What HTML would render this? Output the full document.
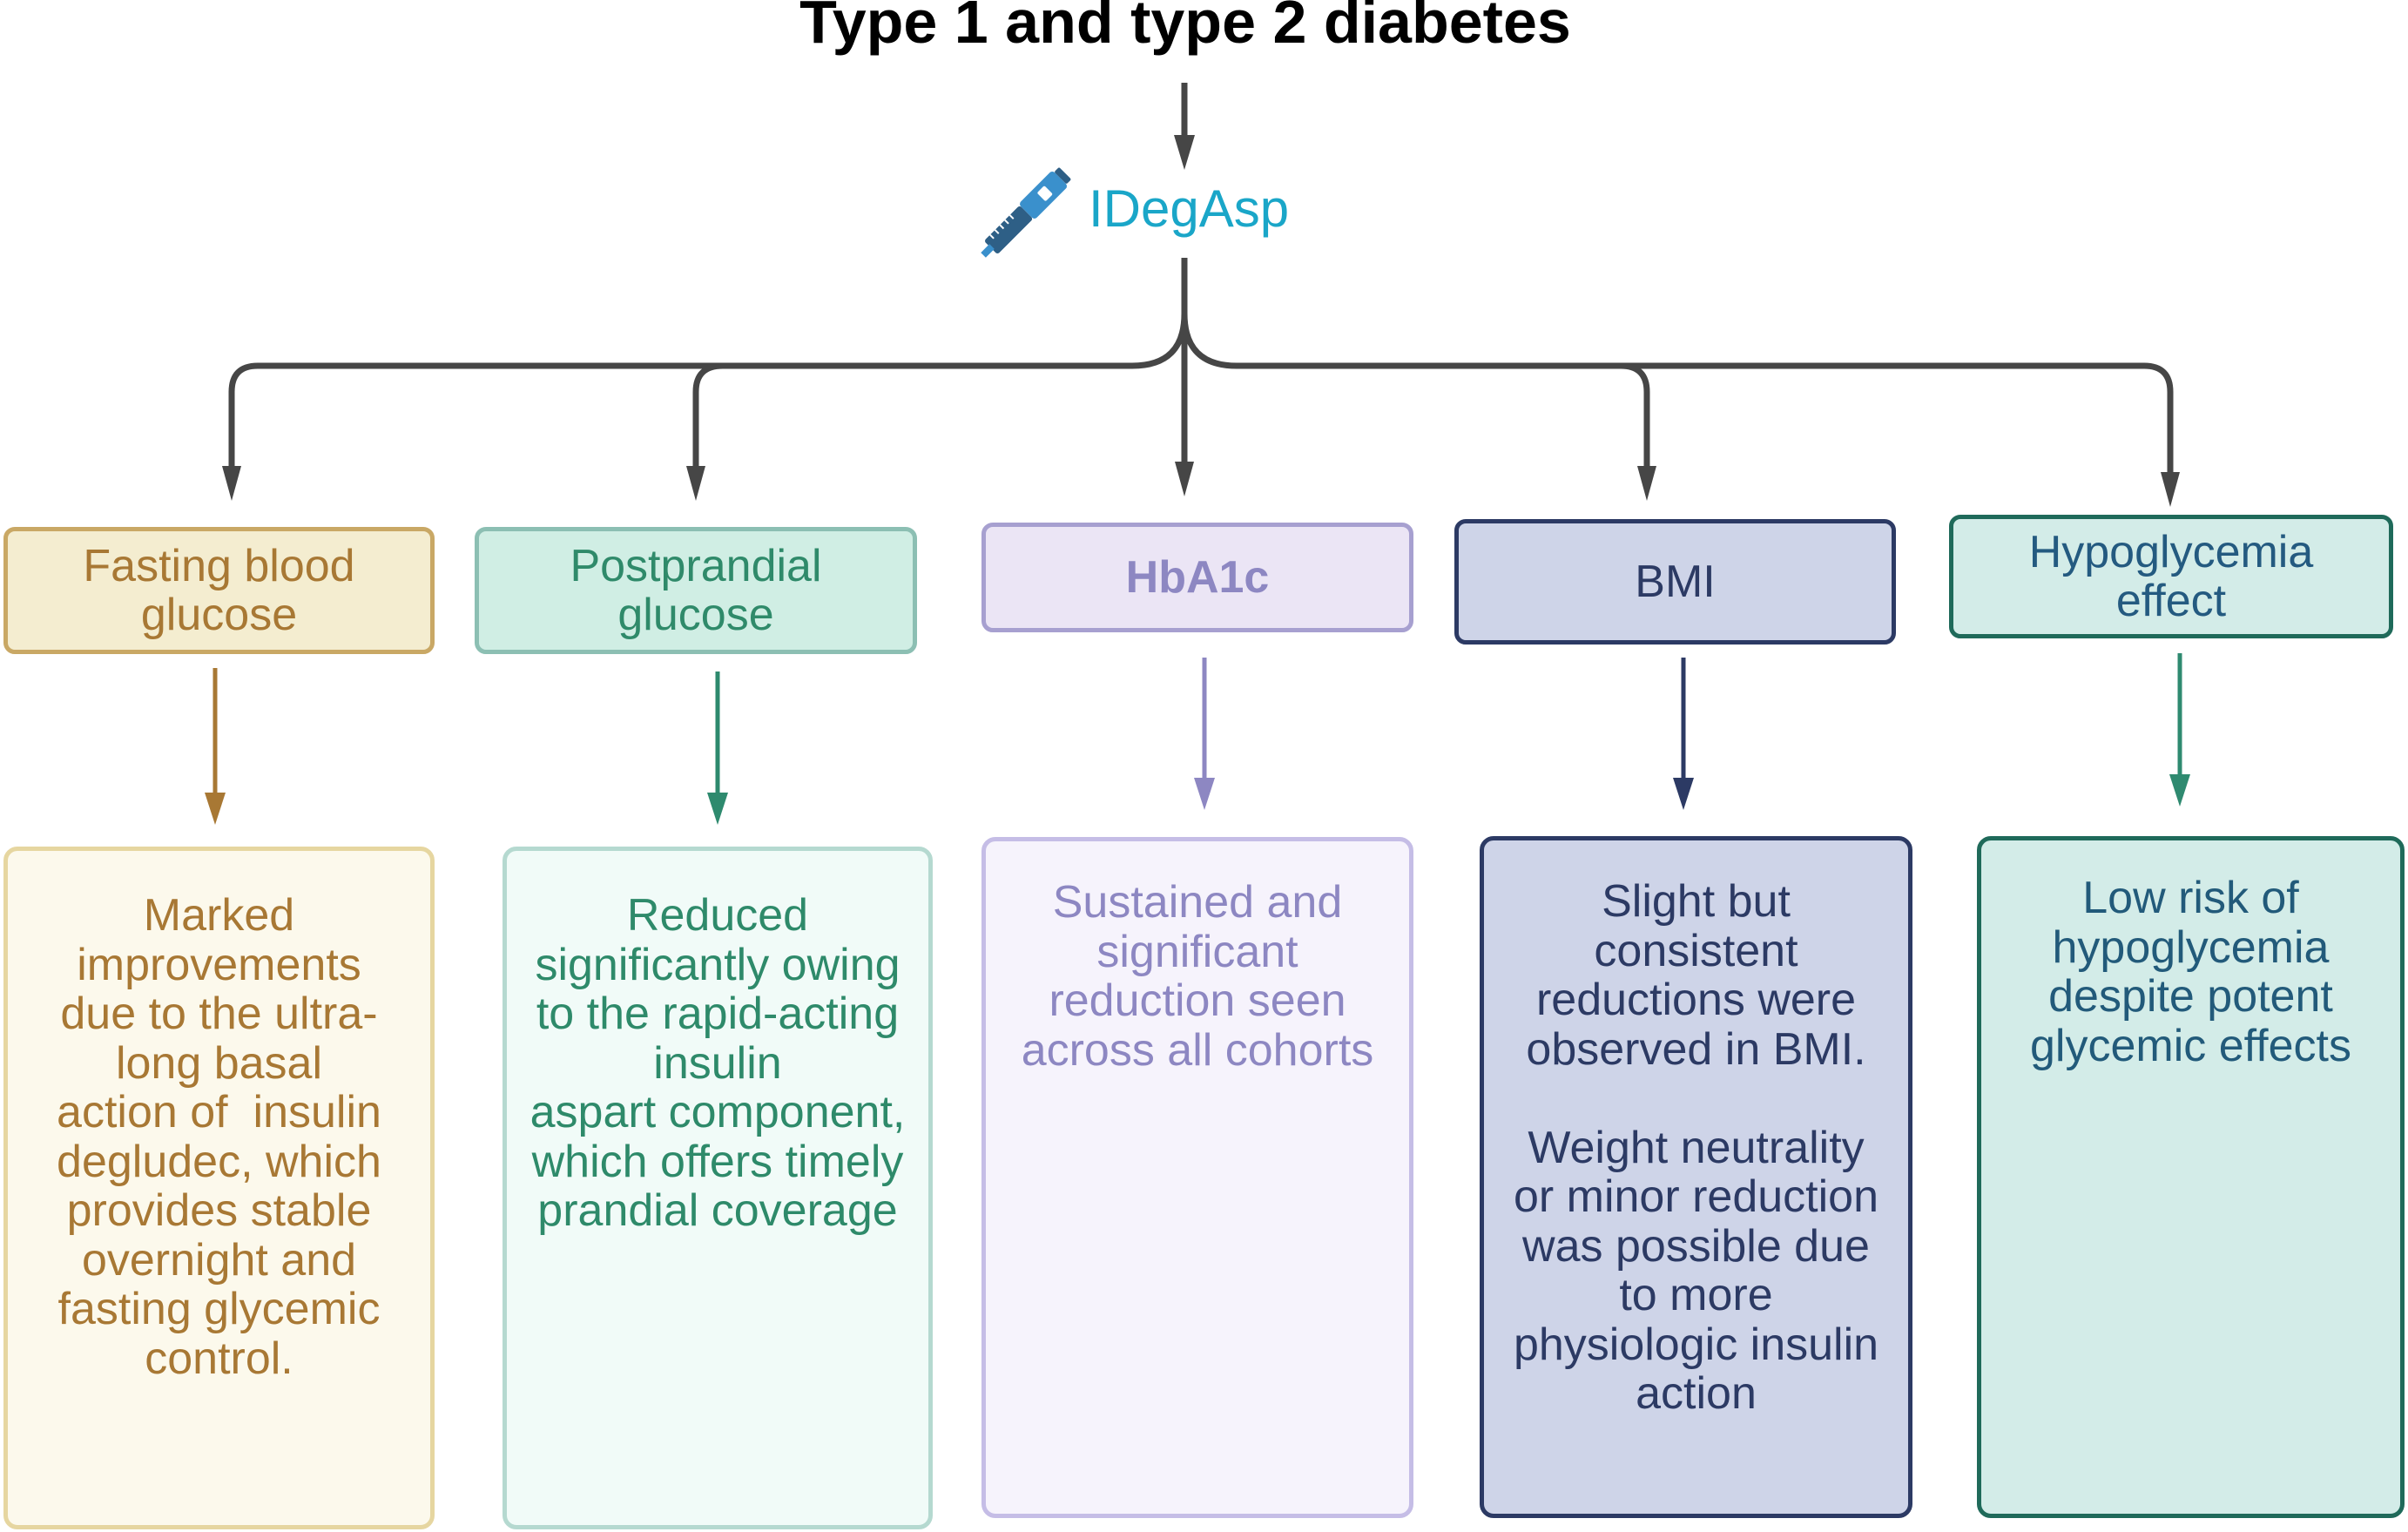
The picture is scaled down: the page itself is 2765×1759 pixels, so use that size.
<!DOCTYPE html>
<html><head><meta charset="utf-8"><style>
html,body{margin:0;padding:0;background:#fff;}
body{width:2765px;height:1759px;position:relative;overflow:hidden;font-family:"Liberation Sans",Arial,sans-serif;}
.t{position:absolute;white-space:nowrap;}
.box{position:absolute;box-sizing:border-box;border-radius:13px;border-style:solid;border-width:5px;display:flex;align-items:center;justify-content:center;text-align:center;font-size:52px;line-height:56px;}
.low{position:absolute;box-sizing:border-box;border-radius:16px;border-style:solid;border-width:5px;text-align:center;font-size:52px;line-height:56.5px;white-space:nowrap;}
</style></head><body>
<div class="t" style="left:0;width:2722px;text-align:center;top:-15px;font-size:70px;font-weight:bold;color:#000;">Type 1 and type 2 diabetes</div>
<div class="t" style="left:1250px;top:205px;font-size:60px;color:#1aa6c8;">IDegAsp</div>

<svg width="2765" height="1759" style="position:absolute;left:0;top:0" xmlns="http://www.w3.org/2000/svg">
<g transform="translate(1180,242) rotate(-45)">
<rect x="-60" y="-11" width="58" height="22" rx="3" fill="#2e5f86"/>
<rect x="-2" y="-13" width="55" height="26" rx="4" fill="#3a90cc"/>
<rect x="22" y="-7" width="12" height="14" rx="2" fill="#fff"/>
<rect x="53" y="-10" width="8" height="20" rx="2" fill="#2e5f86"/>
<rect x="-72" y="-4" width="14" height="8" fill="#3a90cc"/>
<g stroke="#fff" stroke-width="2"><line x1="-50" y1="-11" x2="-50" y2="-5"/><line x1="-42" y1="-11" x2="-42" y2="-5"/><line x1="-34" y1="-11" x2="-34" y2="-5"/><line x1="-26" y1="-11" x2="-26" y2="-5"/><line x1="-18" y1="-11" x2="-18" y2="-5"/></g>
</g>
<g fill="none" stroke="#464646" stroke-width="7">
<line x1="1360" y1="95" x2="1360" y2="160"/>
<line x1="1360" y1="296" x2="1360" y2="540"/>
<path d="M1360 360 Q1360 420 1300 420 L296 420 Q266 420 266 450 L266 540"/>
<path d="M1360 360 Q1360 420 1420 420 L2462 420 Q2492 420 2492 450 L2492 545"/>
<path d="M830 420 Q799 420 799 450 L799 540"/>
<path d="M1861 420 Q1891 420 1891 450 L1891 540"/>
</g>
<g fill="#464646">
<polygon points="1348,155 1372,155 1360,195"/>
<polygon points="255,535 277,535 266,575"/>
<polygon points="788,535 810,535 799,575"/>
<polygon points="1349,530 1371,530 1360,570"/>
<polygon points="1880,535 1902,535 1891,575"/>
<polygon points="2481,542 2503,542 2492,582"/>
</g>
<g stroke-width="5">
<line x1="247" y1="767" x2="247" y2="915" stroke="#a87834"/><polygon points="235,910 259,910 247,947" fill="#a87834"/>
<line x1="824" y1="771" x2="824" y2="915" stroke="#2e8a6e"/><polygon points="812,910 836,910 824,947" fill="#2e8a6e"/>
<line x1="1383" y1="755" x2="1383" y2="898" stroke="#8d87c2"/><polygon points="1371,893 1395,893 1383,930" fill="#8d87c2"/>
<line x1="1933" y1="755" x2="1933" y2="898" stroke="#2c3a64"/><polygon points="1921,893 1945,893 1933,930" fill="#2c3a64"/>
<line x1="2503" y1="750" x2="2503" y2="894" stroke="#2f8a70"/><polygon points="2491,889 2515,889 2503,926" fill="#2f8a70"/>
</g>
</svg>

<div class="box" style="left:4px;top:605px;width:495px;height:146px;background:#f4edd0;border-color:#c9a865;color:#a87834;">Fasting blood<br>glucose</div>
<div class="box" style="left:545px;top:605px;width:508px;height:146px;background:#d0eee4;border-color:#8cbfb3;color:#2f8a6a;">Postprandial<br>glucose</div>
<div class="box" style="left:1127px;top:600px;width:496px;height:126px;background:#ebe5f5;border-color:#a7a0d0;color:#8d87c2;font-weight:bold;">HbA1c</div>
<div class="box" style="left:1670px;top:596px;width:507px;height:144px;background:#ced4e8;border-color:#2c3a64;color:#2c3a64;">BMI</div>
<div class="box" style="left:2238px;top:591px;width:510px;height:142px;background:#d3ece8;border-color:#1f6a5a;color:#245a80;">Hypoglycemia<br>effect</div>

<div class="low" style="left:4px;top:972px;width:495px;height:784px;background:#fcf9ec;border-color:#e6d6a0;color:#a87834;padding-top:46px;">Marked<br>improvements<br>due to the ultra-<br>long basal<br>action of&nbsp; insulin<br>degludec, which<br>provides stable<br>overnight and<br>fasting glycemic<br>control.</div>
<div class="low" style="left:577px;top:972px;width:494px;height:784px;background:#f1fbf8;border-color:#b5d9d0;color:#2e8a6a;padding-top:46px;">Reduced<br>significantly owing<br>to the rapid-acting<br>insulin<br>aspart component,<br>which offers timely<br>prandial coverage</div>
<div class="low" style="left:1127px;top:961px;width:496px;height:782px;background:#f6f3fc;border-color:#c5bde6;color:#8d87c2;padding-top:42px;">Sustained and<br>significant<br>reduction seen<br>across all cohorts</div>
<div class="low" style="left:1699px;top:960px;width:497px;height:783px;background:#ced4e8;border-color:#2c3a64;color:#2c3a64;padding-top:42px;">Slight but<br>consistent<br>reductions were<br>observed in BMI.<br>&nbsp;<br>Weight neutrality<br>or minor reduction<br>was possible due<br>to more<br>physiologic insulin<br>action</div>
<div class="low" style="left:2270px;top:960px;width:491px;height:783px;background:#d3ece8;border-color:#1f6a5a;color:#225a7a;padding-top:38px;">Low risk of<br>hypoglycemia<br>despite potent<br>glycemic effects</div>
</body></html>
